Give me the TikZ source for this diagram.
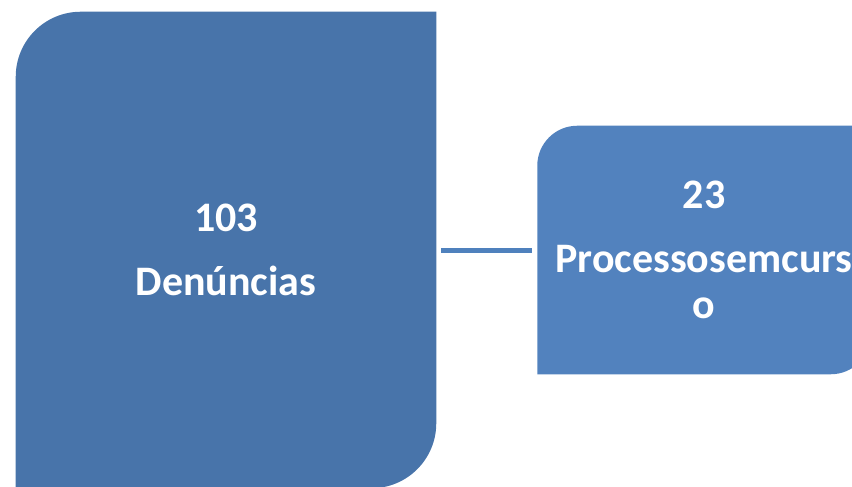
\documentclass[tikz,border=0pt]{standalone}
\usepackage{fontspec}
\setmainfont{Carlito}
\usetikzlibrary{positioning, backgrounds}

\definecolor{boxdark}{HTML}{4874AA}
\definecolor{boxlight}{HTML}{5282BE}
\definecolor{linkblue}{HTML}{4F81BD}

\tikzset{
	card/.style={rectangle, inner sep=0pt, text=white, align=center,
		font=\fontsize{31.5pt}{34.5pt}\selectfont\bfseries},
	link/.style={draw=linkblue, line width=3.75pt, shorten <=3.75pt, shorten >=3.75pt},
}

\begin{document}
\begin{tikzpicture}[x=0.75pt, y=0.75pt]

		\useasboundingbox (0,0) rectangle (852,486);

		\node[card, minimum width=315pt, minimum height=357pt] (denuncias) at (226,236) {103\\[13.5pt]Denúncias};
		\node[card, minimum width=249.75pt, minimum height=186pt] (processos) [right=75.75pt of denuncias] {23\\[13.5pt]Processosemcurs\\o};

		\begin{scope}[on background layer]
			\fill[boxdark] (denuncias.south west) -- ([yshift=-48.75pt]denuncias.north west)
				arc[start angle=180, end angle=90, radius=48.75pt] -- (denuncias.north east)
				-- ([yshift=48.75pt]denuncias.south east)
				arc[start angle=0, end angle=-90, radius=48.75pt] -- cycle;
			\fill[boxlight] (processos.south west) -- ([yshift=-30pt]processos.north west)
				arc[start angle=180, end angle=90, radius=30pt] -- (processos.north east)
				-- ([yshift=30pt]processos.south east)
				arc[start angle=0, end angle=-90, radius=30pt] -- cycle;
		\end{scope}

		\draw[link] (denuncias) -- (processos);
	\end{tikzpicture}
\end{document}
